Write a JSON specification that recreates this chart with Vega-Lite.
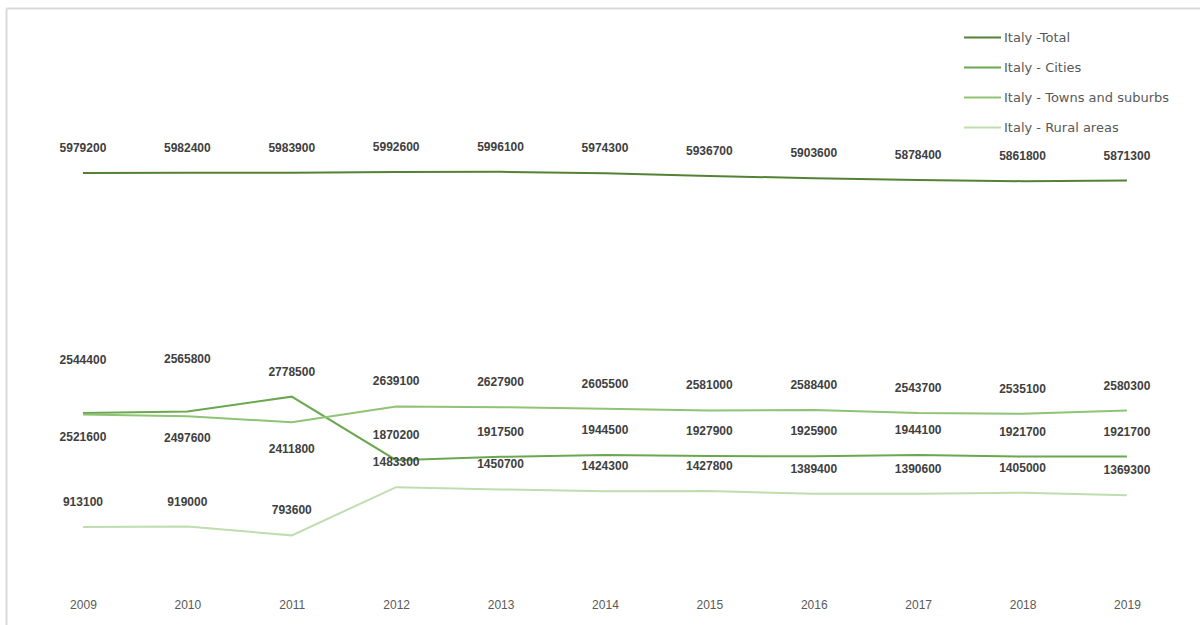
{
  "$schema": "https://vega.github.io/schema/vega-lite/v6.json",
  "width": 1194,
  "height": 617,
  "autosize": {"type": "none"},
  "padding": {"left": 6, "top": 8, "right": 0, "bottom": 0},
  "background": "#ffffff",
  "config": {
    "font": "Liberation Sans",
    "view": {"stroke": null},
    "axis": {"grid": false, "ticks": false, "title": null}
  },
  "data": {
    "values": [
      {"year": "2009", "series": "Italy -Total", "value": 5979200},
      {"year": "2010", "series": "Italy -Total", "value": 5982400},
      {"year": "2011", "series": "Italy -Total", "value": 5983900},
      {"year": "2012", "series": "Italy -Total", "value": 5992600},
      {"year": "2013", "series": "Italy -Total", "value": 5996100},
      {"year": "2014", "series": "Italy -Total", "value": 5974300},
      {"year": "2015", "series": "Italy -Total", "value": 5936700},
      {"year": "2016", "series": "Italy -Total", "value": 5903600},
      {"year": "2017", "series": "Italy -Total", "value": 5878400},
      {"year": "2018", "series": "Italy -Total", "value": 5861800},
      {"year": "2019", "series": "Italy -Total", "value": 5871300},
      {"year": "2009", "series": "Italy - Cities", "value": 2544400},
      {"year": "2010", "series": "Italy - Cities", "value": 2565800},
      {"year": "2011", "series": "Italy - Cities", "value": 2778500},
      {"year": "2012", "series": "Italy - Cities", "value": 1870200},
      {"year": "2013", "series": "Italy - Cities", "value": 1917500},
      {"year": "2014", "series": "Italy - Cities", "value": 1944500},
      {"year": "2015", "series": "Italy - Cities", "value": 1927900},
      {"year": "2016", "series": "Italy - Cities", "value": 1925900},
      {"year": "2017", "series": "Italy - Cities", "value": 1944100},
      {"year": "2018", "series": "Italy - Cities", "value": 1921700},
      {"year": "2019", "series": "Italy - Cities", "value": 1921700},
      {"year": "2009", "series": "Italy - Towns and suburbs", "value": 2521600},
      {"year": "2010", "series": "Italy - Towns and suburbs", "value": 2497600},
      {"year": "2011", "series": "Italy - Towns and suburbs", "value": 2411800},
      {"year": "2012", "series": "Italy - Towns and suburbs", "value": 2639100},
      {"year": "2013", "series": "Italy - Towns and suburbs", "value": 2627900},
      {"year": "2014", "series": "Italy - Towns and suburbs", "value": 2605500},
      {"year": "2015", "series": "Italy - Towns and suburbs", "value": 2581000},
      {"year": "2016", "series": "Italy - Towns and suburbs", "value": 2588400},
      {"year": "2017", "series": "Italy - Towns and suburbs", "value": 2543700},
      {"year": "2018", "series": "Italy - Towns and suburbs", "value": 2535100},
      {"year": "2019", "series": "Italy - Towns and suburbs", "value": 2580300},
      {"year": "2009", "series": "Italy - Rural areas", "value": 913100},
      {"year": "2010", "series": "Italy - Rural areas", "value": 919000},
      {"year": "2011", "series": "Italy - Rural areas", "value": 793600},
      {"year": "2012", "series": "Italy - Rural areas", "value": 1483300},
      {"year": "2013", "series": "Italy - Rural areas", "value": 1450700},
      {"year": "2014", "series": "Italy - Rural areas", "value": 1424300},
      {"year": "2015", "series": "Italy - Rural areas", "value": 1427800},
      {"year": "2016", "series": "Italy - Rural areas", "value": 1389400},
      {"year": "2017", "series": "Italy - Rural areas", "value": 1390600},
      {"year": "2018", "series": "Italy - Rural areas", "value": 1405000},
      {"year": "2019", "series": "Italy - Rural areas", "value": 1369300}
    ]
  },
  "encoding": {
    "x": {
      "field": "year",
      "type": "ordinal",
      "axis": null,
      "scale": {"type": "point", "padding": 0.7184, "align": 0.513}
    },
    "y": {
      "field": "value",
      "type": "quantitative",
      "scale": {"domain": [-489000, 8340000], "nice": false, "zero": false}
    }
  },
  "layer": [
    {
      "mark": {"type": "line", "strokeWidth": 2},
      "encoding": {
        "x": {
          "field": "year",
          "type": "ordinal",
          "axis": {"orient": "bottom", "offset": -30, "domain": false, "labelAngle": 0, "labelFontSize": 12, "labelColor": "#595959", "labelPadding": 4}
        },
        "y": {
          "field": "value",
          "type": "quantitative",
          "axis": {"orient": "left", "labels": false, "domain": true, "domainColor": "#d9d9d9", "domainWidth": 2}
        },
        "color": {
          "field": "series",
          "type": "nominal",
          "scale": {
            "domain": ["Italy -Total", "Italy - Cities", "Italy - Towns and suburbs", "Italy - Rural areas"],
            "range": ["#548235", "#6aa84f", "#8fc375", "#c0ddb0"]
          },
          "legend": {
            "title": null,
            "orient": "none",
            "legendX": 957,
            "legendY": 10,
            "symbolType": "stroke",
            "symbolSize": 1369,
            "symbolStrokeWidth": 2,
            "labelFont": "DejaVu Sans",
            "labelFontSize": 13,
            "labelLimit": 300,
            "labelColor": "#595959",
            "labelOffset": 2,
            "rowPadding": 3,
            "padding": 0
          }
        }
      }
    },
    {
      "mark": {"type": "rule", "opacity": 0},
      "encoding": {
        "x": {
          "field": "year",
          "type": "ordinal",
          "axis": {"orient": "top", "labels": false, "domain": true, "domainColor": "#d9d9d9", "domainWidth": 2}
        }
      }
    },
    {
      "transform": [{"filter": "!(datum.series == 'Italy - Cities' && (datum.year == '2009' || datum.year == '2010')) && !(datum.series == 'Italy - Towns and suburbs' && (datum.year == '2009' || datum.year == '2010' || datum.year == '2011'))"}],
      "mark": {"type": "text", "dy": -25, "fontSize": 12, "fontWeight": "bold", "color": "#404040"},
      "encoding": {"text": {"field": "value", "type": "quantitative", "format": "d"}}
    },
    {
      "transform": [{"filter": "datum.series == 'Italy - Cities' && (datum.year == '2009' || datum.year == '2010')"}],
      "mark": {"type": "text", "dy": -53, "fontSize": 12, "fontWeight": "bold", "color": "#404040"},
      "encoding": {"text": {"field": "value", "type": "quantitative", "format": "d"}}
    },
    {
      "transform": [{"filter": "datum.series == 'Italy - Towns and suburbs' && (datum.year == '2009' || datum.year == '2010')"}],
      "mark": {"type": "text", "dy": 22, "fontSize": 12, "fontWeight": "bold", "color": "#404040"},
      "encoding": {"text": {"field": "value", "type": "quantitative", "format": "d"}}
    },
    {
      "transform": [{"filter": "datum.series == 'Italy - Towns and suburbs' && datum.year == '2011'"}],
      "mark": {"type": "text", "dy": 27, "fontSize": 12, "fontWeight": "bold", "color": "#404040"},
      "encoding": {"text": {"field": "value", "type": "quantitative", "format": "d"}}
    }
  ],
  "resolve": {"axis": {"x": "independent"}}
}
